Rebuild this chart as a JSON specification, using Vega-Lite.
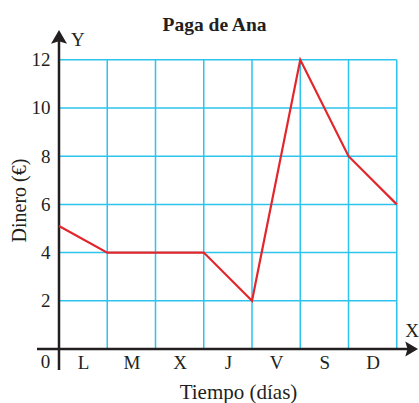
{
  "$schema": "https://vega.github.io/schema/vega-lite/v6.json",
  "autosize": "none",
  "width": 359,
  "height": 319,
  "padding": {"left": 59, "top": 30, "right": 1, "bottom": 54},
  "background": "white",
  "config": {
    "view": {"stroke": null},
    "font": "Liberation Serif",
    "axis": {
      "grid": false, "ticks": false, "domain": false,
      "labelFont": "Liberation Serif", "labelFontSize": 19, "labelColor": "#231f20",
      "titleFont": "Liberation Serif", "titleFontSize": 19, "titleFontWeight": "normal", "titleColor": "#231f20"
    }
  },
  "title": {
    "text": "Paga de Ana",
    "font": "Liberation Serif",
    "fontSize": 19.5,
    "fontWeight": "bold",
    "color": "#231f20",
    "anchor": "middle",
    "frame": "group",
    "dx": -24,
    "dy": 22,
    "offset": 2,
    "baseline": "alphabetic"
  },
  "datasets": {
    "paga": [
      {"dia": 0, "dinero": 5.1},
      {"dia": 1, "dinero": 4},
      {"dia": 2, "dinero": 4},
      {"dia": 3, "dinero": 4},
      {"dia": 4, "dinero": 2},
      {"dia": 5, "dinero": 12},
      {"dia": 6, "dinero": 8},
      {"dia": 7, "dinero": 6}
    ]
  },
  "layer": [
    {
      "data": {"values": [{"g": 1}, {"g": 2}, {"g": 3}, {"g": 4}, {"g": 5}, {"g": 6}, {"g": 7}]},
      "mark": {"type": "rule", "color": "#2cc3ee", "strokeWidth": 1.5},
      "encoding": {
        "x": {"field": "g", "type": "quantitative", "scale": {"domain": [0, 7.44], "nice": false, "zero": false}},
        "y": {"datum": 0, "type": "quantitative", "scale": {"domain": [0, 13.236], "nice": false, "zero": false}},
        "y2": {"datum": 12}
      }
    },
    {
      "data": {"values": [{"g": 2}, {"g": 4}, {"g": 6}, {"g": 8}, {"g": 10}, {"g": 12}]},
      "mark": {"type": "rule", "color": "#2cc3ee", "strokeWidth": 1.5},
      "encoding": {
        "y": {"field": "g", "type": "quantitative"},
        "x": {"datum": 0, "type": "quantitative"},
        "x2": {"datum": 7}
      }
    },
    {
      "data": {"values": [{"x0": -0.456, "x1": 7.3, "y0": 0, "y1": 0}, {"x0": 0, "x1": 0, "y0": -0.87, "y1": 12.9}]},
      "mark": {"type": "rule", "color": "#231f20", "strokeWidth": 2.5},
      "encoding": {
        "x": {"field": "x0", "type": "quantitative"},
        "x2": {"field": "x1"},
        "y": {"field": "y0", "type": "quantitative"},
        "y2": {"field": "y1"}
      }
    },
    {
      "data": {"values": [{"ax": 7.285, "ay": 0}]},
      "mark": {"type": "point", "shape": "M-0.7,-1L1,0L-0.7,1L-0.4,0Z", "size": 225, "filled": true, "color": "#231f20", "opacity": 1},
      "encoding": {
        "x": {"field": "ax", "type": "quantitative"},
        "y": {"field": "ay", "type": "quantitative"}
      }
    },
    {
      "data": {"values": [{"ax": 0, "ay": 12.9}]},
      "mark": {"type": "point", "shape": "M0,-1L1,0.7L0,0.4L-1,0.7Z", "size": 256, "filled": true, "color": "#231f20", "opacity": 1},
      "encoding": {
        "x": {"field": "ax", "type": "quantitative"},
        "y": {"field": "ay", "type": "quantitative"}
      }
    },
    {
      "data": {"name": "paga"},
      "mark": {"type": "line", "color": "#e3262b", "strokeWidth": 2.2},
      "encoding": {
        "x": {
          "field": "dia", "type": "quantitative",
          "axis": {
            "values": [0.5, 1.5, 2.5, 3.5, 4.5, 5.5, 6.5],
            "labelExpr": "['L','M','X','J','V','S','D'][floor(datum.value)]",
            "title": "Tiempo (días)",
            "labelPadding": 4, "labelFlush": false, "labelOverlap": false,
            "titleFontSize": 21,
            "titlePadding": 9, "titleX": 179
          }
        },
        "y": {
          "field": "dinero", "type": "quantitative",
          "axis": {
            "values": [2, 4, 6, 8, 10, 12],
            "title": "Dinero (€)",
            "labelPadding": 9, "labelOverlap": false,
            "titleFontSize": 20,
            "titlePadding": 2, "titleY": 170
          }
        }
      }
    },
    {
      "data": {"values": [{"t": "Y", "tx": 0.39, "ty": 12.82}, {"t": "X", "tx": 7.32, "ty": 0.75}, {"t": "0", "tx": -0.28, "ty": -0.54}]},
      "mark": {"type": "text", "font": "Liberation Serif", "fontSize": 19, "color": "#231f20", "baseline": "middle", "align": "center"},
      "encoding": {
        "x": {"field": "tx", "type": "quantitative"},
        "y": {"field": "ty", "type": "quantitative"},
        "text": {"field": "t"}
      }
    }
  ]
}
